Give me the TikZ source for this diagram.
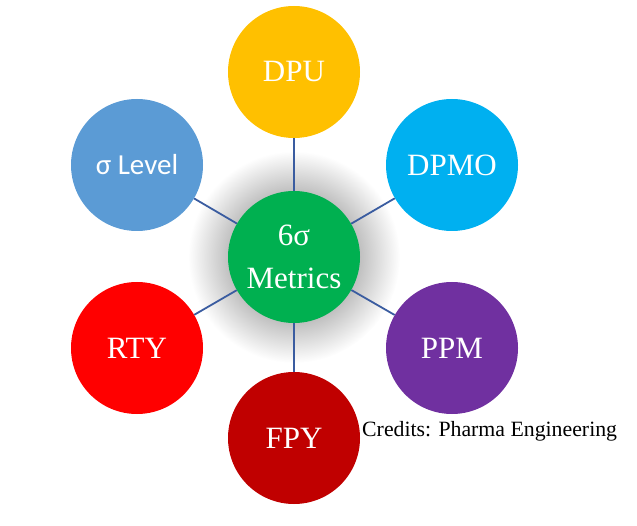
\documentclass[tikz,border=0pt]{standalone}
\usepackage{fontspec}
\setmainfont{Liberation Serif}
\newfontfamily\calib{Carlito}
\definecolor{cDPU}{HTML}{FFC000}
\definecolor{cDPMO}{HTML}{00B0F0}
\definecolor{cSig}{HTML}{5B9BD5}
\definecolor{cMid}{HTML}{00B050}
\definecolor{cRTY}{HTML}{FF0000}
\definecolor{cPPM}{HTML}{7030A0}
\definecolor{cFPY}{HTML}{C00000}
\definecolor{cLink}{HTML}{3A5CA0}
\tikzset{
  ball/.style={circle, minimum size=132pt, inner sep=0pt, text=white, align=center, font=\fontsize{31}{43}\selectfont},
  link/.style={draw=cLink, line width=1.8pt}
}
\begin{document}
\begin{tikzpicture}[x=1pt,y=-1pt]
\useasboundingbox (0,0) rectangle (637,526);
\shade[inner color=black!65, outer color=white] (294,257) circle (106);
\node[ball, fill=cMid] (mid) at (294,257) {6σ\\Metrics};
\node[ball, fill=cDPU] (dpu) at (294,72) {DPU};
\node[ball, fill=cDPMO] (dpmo) at (452,165) {DPMO};
\node[ball, fill=cSig, font=\calib\fontsize{29}{35}\selectfont] (sig) at (137,165) {σ Level};
\node[ball, fill=cRTY] (rty) at (137,348) {RTY};
\node[ball, fill=cPPM] (ppm) at (452,348) {PPM};
\node[ball, fill=cFPY] (fpy) at (294,438) {FPY};
\foreach \n in {dpu,dpmo,sig,rty,ppm,fpy} \draw[link] (mid) -- (\n);
\node[anchor=base west, inner sep=0pt, font=\fontsize{21.8}{26}\selectfont] (cred) at (362,436) {Credits: Pharma Engineering};
\end{tikzpicture}
\end{document}
